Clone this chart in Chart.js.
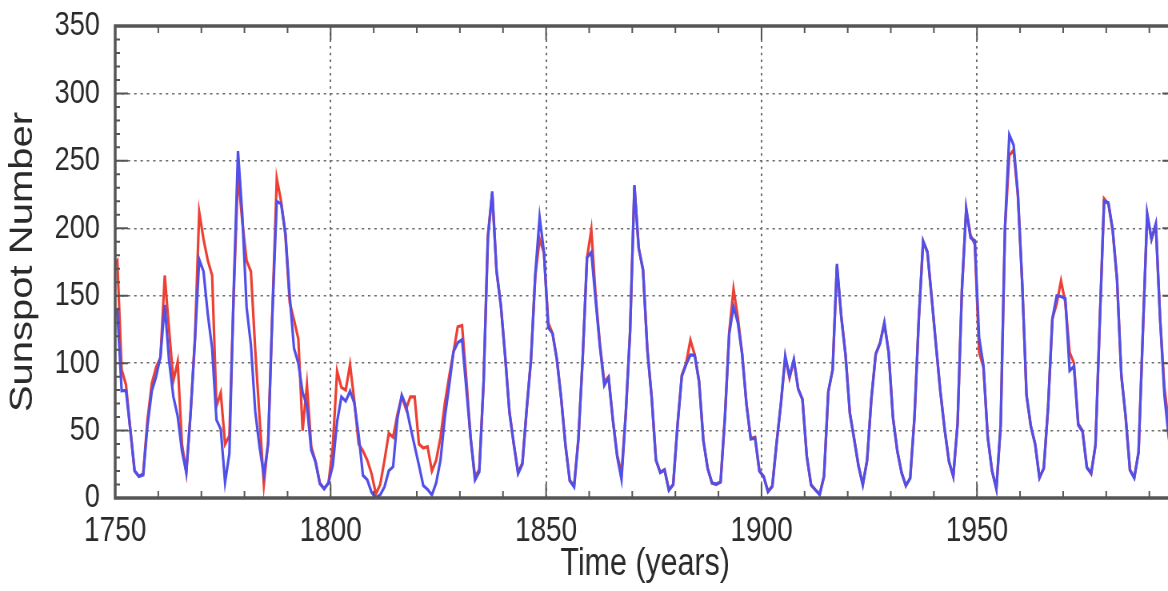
<!DOCTYPE html>
<html>
<head>
<meta charset="utf-8">
<script src="https://cdn.jsdelivr.net/npm/chart.js@4.4.1/dist/chart.umd.min.js"></script>
<style>
  html, body { margin: 0; padding: 0; background: #fff; overflow: hidden; }
</style>
</head>
<body>
<!-- the original figure is squeezed sideways, so the canvas is drawn wide and shown at 80% width -->
<canvas id="sunspots" width="1470" height="591" style="display:block;width:1176px;height:591px"></canvas>
<script>
// yearly sunspot numbers, one value per year (plotted mid-year)
var firstYear = 1749;

var blueValues = [
  134.7, 139.0, 79.5, 79.7, 51.2, 20.3, 16.0, 17.0, 54.0, 79.3,
  90.0, 104.8, 143.2, 102.0, 75.2, 60.7, 34.8, 19.0, 63.0, 116.3,
  176.8, 168.0, 136.0, 110.8, 58.0, 51.0, 11.7, 33.0, 154.2, 257.3,
  209.8, 141.3, 113.5, 64.2, 38.0, 17.0, 40.2, 138.2, 220.0, 218.2,
  196.8, 149.8, 111.0, 100.0, 78.2, 68.3, 35.5, 26.7, 10.7, 6.8,
  11.3, 24.2, 56.7, 75.0, 71.8, 79.2, 70.3, 46.8, 16.8, 13.5,
  4.2, 0.0, 2.3, 8.3, 20.3, 23.2, 59.0, 76.3, 68.3, 52.9,
  38.5, 24.2, 9.2, 6.3, 2.2, 11.4, 28.2, 59.9, 83.0, 108.5,
  115.2, 117.4, 80.8, 44.3, 13.4, 19.5, 85.8, 192.7, 227.3, 168.7,
  143.0, 105.5, 63.3, 40.3, 18.1, 25.1, 65.8, 102.7, 166.3, 208.3,
  182.5, 126.3, 122.0, 102.7, 74.1, 39.0, 12.7, 8.2, 43.4, 104.4,
  178.3, 182.2, 146.6, 112.1, 83.5, 89.3, 57.8, 30.7, 13.9, 62.8,
  123.6, 232.0, 185.3, 169.2, 110.1, 74.5, 28.3, 18.9, 20.7, 5.7,
  10.0, 53.7, 90.5, 99.0, 106.1, 105.8, 86.3, 42.4, 21.8, 11.2,
  10.4, 11.8, 59.5, 121.7, 142.0, 130.0, 106.6, 69.4, 43.8, 44.4,
  20.2, 15.7, 4.6, 8.5, 40.8, 70.1, 105.5, 90.1, 102.8, 80.9,
  73.2, 30.9, 9.5, 6.0, 2.4, 16.1, 79.0, 95.0, 173.6, 134.6,
  105.7, 62.7, 43.5, 23.7, 9.7, 27.9, 74.0, 106.5, 114.7, 129.7,
  108.2, 59.4, 35.1, 18.6, 9.2, 14.6, 60.2, 132.8, 190.6, 182.6,
  148.0, 113.0, 79.2, 50.8, 27.1, 16.1, 55.3, 154.3, 214.7, 193.0,
  190.7, 118.9, 98.3, 45.0, 20.1, 6.6, 54.2, 200.7, 269.3, 261.7,
  225.1, 159.0, 76.4, 53.4, 39.9, 15.0, 22.0, 66.8, 132.9, 150.0,
  149.4, 148.0, 94.4, 97.6, 54.1, 49.2, 22.5, 18.4, 39.3, 131.0,
  220.1, 218.9, 198.9, 162.4, 91.0, 60.5, 20.6, 14.8, 33.9, 123.0,
  211.1, 191.8, 203.3, 133.0, 76.1, 44.9, 25.1, 11.6
];

var redValues = [
  172, 176, 95, 84, 51, 20, 16, 18, 58, 85,
  97, 104, 165, 125, 87, 101, 40, 19, 63, 118,
  212, 192, 176, 165, 68, 78, 40, 46, 150, 240,
  205, 176, 168, 110, 60, 10, 42, 140, 237, 220,
  195, 145, 132, 118, 50, 84, 38, 27, 11, 7,
  11, 38, 94, 82, 80, 99, 72, 40, 35, 28,
  18, 3, 10, 28, 48, 45, 62, 75, 66, 75,
  75, 40, 37, 38, 20, 28, 45, 70, 90, 108,
  127, 128, 88, 44, 16, 21, 86, 195, 226, 168,
  143, 105, 64, 40, 19, 26, 66, 103, 165, 192,
  182, 130, 122, 103, 74, 39, 13, 9, 44, 104,
  178, 199, 150, 114, 86, 90, 58, 32, 18, 63,
  124, 231, 185, 169, 110, 75, 28, 19, 21, 6,
  10, 54, 91, 100, 117, 106, 87, 43, 22, 11,
  10, 12, 60, 123, 155, 134, 107, 70, 44, 45,
  20, 16, 5, 9, 41, 70, 104, 89, 102, 81,
  73, 31, 10, 6, 3, 16, 79, 95, 172, 135,
  106, 63, 44, 24, 10, 28, 74, 107, 115, 130,
  108, 60, 35, 19, 9, 15, 60, 133, 190, 182,
  148, 113, 79, 51, 27, 16, 55, 154, 214, 195,
  188, 108, 97, 45, 20, 7, 54, 200, 254, 258,
  224, 159, 76, 53, 40, 15, 22, 67, 133, 144,
  161, 145, 108, 100, 55, 50, 23, 18, 39, 131,
  222, 218, 198, 162, 91, 60, 21, 15, 34, 123,
  210, 192, 203, 133, 82, 55, 26, 12
];

var xTickLabels = [1750, 1800, 1850, 1900, 1950];
var yTickLabels = [0, 50, 100, 150, 200, 250, 300, 350];

var years = blueValues.map(function (v, i) { return firstYear + i; });

function points(values) {
  return values.map(function (v, i) { return { x: years[i] + 0.5, y: v }; });
}

var fontFamily = "'Liberation Sans', Arial, Helvetica, sans-serif";
var inkColor = '#2a2a2a';

// box round the plot with inward ticks (minor every 10, major at the labels)
var framePlugin = {
  id: 'frame',
  afterDatasetsDraw: function (chart) {
    var ctx = chart.ctx, a = chart.chartArea;
    var sx = chart.scales.x, sy = chart.scales.y;
    ctx.save();
    ctx.strokeStyle = '#555';
    ctx.lineWidth = 2;
    ctx.beginPath();
    for (var yr = 1750; yr <= 1990; yr += 10) {
      var px = sx.getPixelForValue(yr);
      var len = xTickLabels.indexOf(yr) >= 0 ? 14 : 7;
      ctx.moveTo(px, a.bottom); ctx.lineTo(px, a.bottom - len);
      ctx.moveTo(px, a.top); ctx.lineTo(px, a.top + len);
    }
    for (var v = 0; v <= 350; v += 10) {
      var py = sy.getPixelForValue(v);
      var l2 = yTickLabels.indexOf(v) >= 0 ? 16 : 6;
      ctx.moveTo(a.left, py); ctx.lineTo(a.left + l2, py);
      ctx.moveTo(a.right, py); ctx.lineTo(a.right - l2, py);
    }
    ctx.stroke();
    ctx.lineWidth = 3.5;
    ctx.strokeRect(a.left, a.top, a.right - a.left, a.bottom - a.top);
    ctx.restore();
  }
};

var chart = new Chart(document.getElementById('sunspots'), {
  type: 'line',
  data: {
    datasets: [{
      label: 'blue',
      data: points(blueValues),
      borderColor: 'rgb(80, 80, 232)',
      borderWidth: 3.2,
      pointRadius: 0,
      fill: false
    }, {
      label: 'red',
      data: points(redValues),
      borderColor: 'rgb(236, 64, 52)',
      borderWidth: 3.2,
      pointRadius: 0,
      fill: false
    }]
  },
  options: {
    responsive: false,
    animation: false,
    layout: { padding: { top: 26, right: 1, left: 0, bottom: 0 } },
    plugins: {
      legend: { display: false },
      tooltip: { enabled: false }
    },
    scales: {
      x: {
        type: 'linear',
        min: 1750,
        max: 1996,
        afterFit: function (s) { s.height = 93; },
        border: { display: false, dash: [2.5, 4.2] },
        grid: {
          drawTicks: false,
          lineWidth: 2,
          color: function (c) {
            return xTickLabels.indexOf(c.tick && c.tick.value) > 0 ? '#6e6e6e' : 'rgba(0,0,0,0)';
          }
        },
        ticks: {
          stepSize: 10,
          autoSkip: false,
          maxRotation: 0,
          includeBounds: false,
          padding: 12,
          color: inkColor,
          font: { family: fontFamily, size: 35 },
          callback: function (v) { return xTickLabels.indexOf(v) >= 0 ? String(v) : ''; }
        },
        title: {
          display: true,
          text: 'Time (years)',
          color: inkColor,
          font: { family: fontFamily, size: 38 },
          padding: { top: 0, bottom: 4 }
        }
      },
      y: {
        min: 0,
        max: 350,
        // fixed width, and no extra room above/below for the end labels
        afterFit: function (s) { s.width = 144; s.paddingTop = 0; s.paddingBottom = 0; },
        border: { display: false, dash: [3.1, 4.8] },
        grid: {
          drawTicks: false,
          lineWidth: 1.5,
          color: function (c) {
            var v = c.tick && c.tick.value;
            return (yTickLabels.indexOf(v) > 0 && v < 350) ? '#6e6e6e' : 'rgba(0,0,0,0)';
          }
        },
        ticks: {
          stepSize: 10,
          autoSkip: false,
          padding: 19,
          color: inkColor,
          font: { family: fontFamily, size: 34 },
          callback: function (v) { return yTickLabels.indexOf(v) >= 0 ? String(v) : ''; }
        },
        title: {
          display: true,
          text: 'Sunspot Number',
          color: inkColor,
          font: { family: fontFamily, size: 40 },
          padding: { top: 5, bottom: 0 }
        }
      }
    }
  },
  plugins: [framePlugin]
});
</script>
</body>
</html>
